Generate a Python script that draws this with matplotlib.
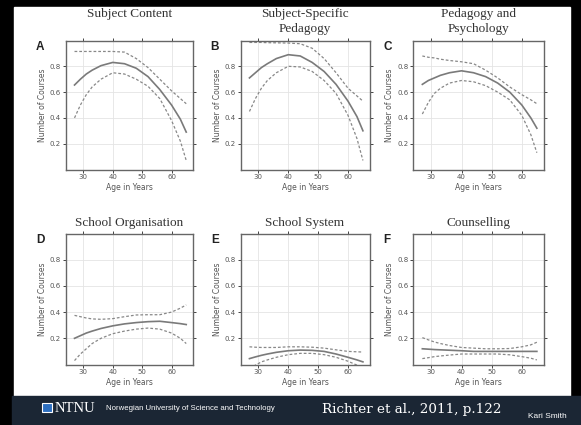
import matplotlib.pyplot as plt
from matplotlib.patches import Rectangle

ages = [27, 29, 31, 33, 36, 40, 44, 48, 52, 56, 60, 63, 65]

titles = ["Subject Content", "Subject-Specific\nPedagogy", "Pedagogy and\nPsychology",
          "School Organisation", "School System", "Counselling"]
letters = ["A", "B", "C", "D", "E", "F"]

# fitted number of courses (solid) with upper / lower bands (dashed)
fit_a = [0.655, 0.70, 0.74, 0.77, 0.805, 0.83, 0.82, 0.785, 0.72, 0.62, 0.50, 0.39, 0.29]
up_a = [0.915, 0.915, 0.915, 0.915, 0.915, 0.915, 0.91, 0.86, 0.79, 0.70, 0.61, 0.55, 0.51]
lo_a = [0.40, 0.50, 0.58, 0.64, 0.70, 0.75, 0.74, 0.70, 0.645, 0.55, 0.38, 0.22, 0.07]

fit_b = [0.71, 0.75, 0.79, 0.82, 0.86, 0.89, 0.88, 0.83, 0.76, 0.66, 0.53, 0.41, 0.30]
up_b = [0.985, 0.985, 0.985, 0.983, 0.982, 0.98, 0.975, 0.94, 0.86, 0.75, 0.63, 0.57, 0.53]
lo_b = [0.45, 0.55, 0.63, 0.69, 0.75, 0.80, 0.795, 0.76, 0.69, 0.59, 0.42, 0.24, 0.07]

fit_c = [0.66, 0.69, 0.71, 0.73, 0.75, 0.765, 0.75, 0.72, 0.67, 0.60, 0.50, 0.40, 0.32]
up_c = [0.88, 0.87, 0.865, 0.855, 0.845, 0.835, 0.82, 0.77, 0.71, 0.64, 0.58, 0.54, 0.51]
lo_c = [0.43, 0.52, 0.59, 0.63, 0.67, 0.69, 0.68, 0.65, 0.60, 0.54, 0.42, 0.27, 0.13]

fit_d = [0.20, 0.22, 0.24, 0.255, 0.275, 0.295, 0.31, 0.32, 0.327, 0.33, 0.32, 0.312, 0.305]
up_d = [0.375, 0.365, 0.355, 0.348, 0.345, 0.35, 0.365, 0.378, 0.38, 0.38, 0.40, 0.43, 0.455]
lo_d = [0.03, 0.08, 0.12, 0.16, 0.20, 0.235, 0.255, 0.27, 0.278, 0.27, 0.24, 0.20, 0.16]

fit_e = [0.045, 0.058, 0.07, 0.08, 0.093, 0.105, 0.11, 0.108, 0.10, 0.08, 0.055, 0.035, 0.02]
up_e = [0.135, 0.132, 0.13, 0.13, 0.13, 0.135, 0.135, 0.132, 0.125, 0.112, 0.10, 0.097, 0.095]
lo_e = [-0.03, -0.005, 0.02, 0.035, 0.055, 0.075, 0.085, 0.085, 0.075, 0.055, 0.025, -0.005, -0.03]

fit_f = [0.12, 0.117, 0.114, 0.112, 0.109, 0.105, 0.10, 0.10, 0.10, 0.10, 0.10, 0.10, 0.10]
up_f = [0.205, 0.188, 0.172, 0.16, 0.145, 0.13, 0.125, 0.12, 0.12, 0.122, 0.135, 0.15, 0.17]
lo_f = [0.045, 0.052, 0.06, 0.065, 0.072, 0.08, 0.08, 0.08, 0.08, 0.074, 0.06, 0.048, 0.035]

fits = [fit_a, fit_b, fit_c, fit_d, fit_e, fit_f]
uppers = [up_a, up_b, up_c, up_d, up_e, up_f]
lowers = [lo_a, lo_b, lo_c, lo_d, lo_e, lo_f]

W, H = 581, 425


def fx(x):
    return x / W


def fy(y):
    return 1 - y / H


fig = plt.figure(figsize=(5.81, 4.25), dpi=100, facecolor="black")

# white slide area and dark footer, behind the axes
fig.patches.append(Rectangle((fx(14), fy(396)), fx(570) - fx(14), fy(7) - fy(396),
                             transform=fig.transFigure, color="white", zorder=-5))
fig.patches.append(Rectangle((fx(12), 0), 1 - fx(12), fy(396),
                             transform=fig.transFigure, color="#1b2634", zorder=-5))

cols = [(65.7, 192.7), (240.5, 369.5), (413.3, 543.5)]
rows = [(40.5, 169.5), (233.5, 364.5)]

for i in range(6):
    x0, x1 = cols[i % 3]
    y0, y1 = rows[i // 3]
    ax = fig.add_axes([fx(x0), fy(y1), fx(x1) - fx(x0), fy(y0) - fy(y1)])
    ax.grid(True, color="#e4e4e4", linewidth=0.6)
    ax.set_axisbelow(True)
    ax.plot(ages, fits[i], color="#7a7a7a", linewidth=1.2)
    ax.plot(ages, uppers[i], color="#888888", linewidth=0.9, linestyle=(0, (2.2, 1.6)))
    ax.plot(ages, lowers[i], color="#888888", linewidth=0.9, linestyle=(0, (2.2, 1.6)))
    ax.set_xlim(24, 67.2)
    ax.set_ylim(0, 1.0)
    ax.set_xticks([30, 40, 50, 60])
    ax.set_yticks([0.2, 0.4, 0.6, 0.8])
    ax.tick_params(direction="out", length=2, width=0.7, color="#444444",
                   labelsize=5, labelcolor="#555555", pad=1.5,
                   top=True, right=True)
    for s in ax.spines.values():
        s.set_color("#666666")
        s.set_linewidth(1.0)
    ax.set_xlabel("Age in Years", fontsize=5.5, color="#555555", labelpad=2)
    ax.set_ylabel("Number of Courses", fontsize=5.5, color="#555555", labelpad=2)
    ax.text(-0.2, 0.95, letters[i], transform=ax.transAxes, fontsize=8.5,
            fontweight="bold", color="#222222", family="Liberation Sans",
            ha="center", va="center")
    cx = (x0 + x1) / 2
    ty = 8 if i < 3 else 217
    fig.text(fx(cx), fy(ty), titles[i], fontsize=9.5, family="Liberation Serif",
             color="#333333", ha="center", va="top", linespacing=1.35)

# footer
fig.patches.append(Rectangle((fx(42), fy(412)), fx(52) - fx(42), fy(403) - fy(412),
                             transform=fig.transFigure, facecolor="#2d6fc0",
                             edgecolor="white", linewidth=0.8, zorder=2))
fig.text(fx(55), fy(408), "NTNU", fontsize=10.5, family="Liberation Serif",
         color="white", va="center", ha="left")
fig.text(fx(106), fy(408), "Norwegian University of Science and Technology",
         fontsize=5.6, family="Liberation Sans", color="white", va="center", ha="left")
fig.text(fx(322), fy(409), "Richter et al., 2011, p.122", fontsize=9.7,
         family="DejaVu Serif", color="white", va="center", ha="left")
fig.text(fx(528), fy(417), "Kari Smith", fontsize=6, family="Liberation Sans",
         color="white", va="center", ha="left")

fig.savefig("out.png", dpi=100, facecolor="black")
